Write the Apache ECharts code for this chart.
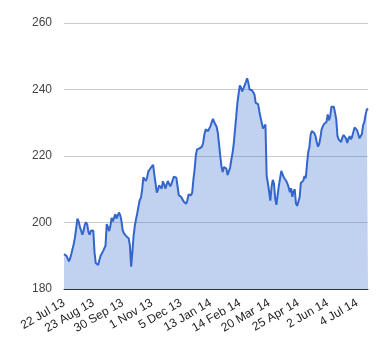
<!DOCTYPE html>
<html>
<head>
<meta charset="utf-8">
<script src="https://cdn.jsdelivr.net/npm/echarts@6/dist/echarts.min.js"></script>
<style>
  html, body { margin: 0; padding: 0; background: #fff; }
  #chart { width: 380px; height: 360px; }
</style>
</head>
<body>
<div id="chart"></div>
<script>
const tickLabels = ['22 Jul 13', '23 Aug 13', '30 Sep 13', '1 Nov 13', '5 Dec 13', '13 Jan 14',
  '14 Feb 14', '20 Mar 14', '25 Apr 14', '2 Jun 14', '4 Jul 14'];
const labelEvery = 24;
const yTicks = [180, 200, 220, 240, 260];
const prices = [
  190.5, 191, 190, 189.2, 188.3, 189.2, 190.5, 192, 193.6, 195.6,
  198.4, 201.2, 200.3, 198.7, 197.6, 196.3, 197.4, 199.3, 200.1, 199.4,
  197.2, 196.3, 197.5, 198, 197.6, 191, 187.8, 187.4, 187.2, 188.7,
  190, 190.7, 191.4, 191.3, 193, 199.5, 198.6, 197.4, 199, 201.4,
  200.3, 200.8, 202.5, 201.2, 201.4, 203, 202.3, 200.6, 197.8, 196.8,
  196.3, 195.9, 195.6, 195.2, 193, 186.7, 191, 196, 199, 201,
  202.8, 204.8, 206.7, 207.4, 209.9, 213.6, 213.4, 212.5, 213.4, 215.3,
  215.8, 216.4, 217, 217.3, 214.4, 211.8, 209, 209.9, 211.2, 210.7,
  210.2, 212.4, 211.5, 210.2, 211.3, 212.5, 211.9, 210.9, 211.6, 212.7,
  213.8, 214, 213.5, 210.9, 208.2, 208, 207.7, 207, 206.3, 205.9,
  205.6, 206.6, 208.4, 208.5, 208.2, 209, 213, 216, 220.3, 222,
  222.5, 222.3, 222.4, 222.8, 224, 226.5, 228, 227.4, 227.5, 227.8,
  229, 230.2, 231.2, 230.2, 229.5, 228.8, 227, 223.6, 220, 216.8,
  215.2, 216.7, 216.4, 216.2, 214.3, 214.8, 216.4, 218.8, 220.8, 223.6,
  227.6, 231.6, 235.8, 238.7, 241.2, 240.5, 239.4, 239.5, 241.3, 242.3,
  243.4, 242, 240, 239.8, 239.8, 239.5, 238.5, 236, 236.5, 235.6,
  233.4, 231.6, 229.9, 228.3, 228.4, 229.5, 214, 211.8, 209.3, 206.6,
  210.7, 212.8, 211.7, 207.1, 205.3, 208.4, 211.1, 211.6, 215.5, 216,
  213.6, 213.1, 212.5, 211.7, 210.6, 209.1, 210.3, 207.7, 209.3, 210,
  205.7, 205, 205.4, 207.6, 211.9, 211.9, 212.6, 214, 213.3, 217.4,
  221.1, 222.6, 226.4, 227.5, 227.1, 226.9, 226, 224.2, 222.8, 223.6,
  225.5, 228, 228.9, 229.6, 230, 230.2, 232.5, 230.7, 231.8, 234.8,
  235.4, 234.8, 233, 231, 226, 225, 224.9, 224.2, 225.6, 226.3,
  226.5, 225.3, 223.9, 225.2, 226, 225, 225.8, 227.2, 228.6, 228.7,
  227.8, 226.6, 225.3, 224.9, 226.6, 229.3, 230.2, 232.4, 233.9, 234.3
];
const categories = prices.map((_, i) => String(i));

const chart = echarts.init(document.getElementById('chart'), null, { renderer: 'canvas' });
chart.setOption({
  animation: false,
  backgroundColor: '#ffffff',
  textStyle: { fontFamily: 'Liberation Sans, Arial, sans-serif' },
  grid: { left: 64, right: 12, top: 23, bottom: 71, containLabel: false },
  xAxis: {
    type: 'category',
    data: categories,
    boundaryGap: false,
    axisLine: { show: true, lineStyle: { color: '#333333', width: 1 } },
    axisTick: { show: false },
    splitLine: { show: false },
    axisLabel: {
      interval: labelEvery - 1,
      rotate: 30,
      margin: 13,
      color: '#222222',
      fontSize: 12,
      fontFamily: 'Liberation Sans, Arial, sans-serif',
      formatter: (v, idx) => tickLabels[Math.round(idx / labelEvery)] || ''
    }
  },
  yAxis: {
    type: 'value',
    min: yTicks[0],
    max: yTicks[yTicks.length - 1],
    interval: 20,
    axisLine: { show: false },
    axisTick: { show: false },
    splitLine: { show: true, lineStyle: { color: '#cccccc', width: 1 } },
    axisLabel: {
      margin: 12,
      color: '#444444',
      fontSize: 12,
      fontFamily: 'Liberation Sans, Arial, sans-serif'
    }
  },
  series: [{
    type: 'line',
    data: prices,
    showSymbol: false,
    symbol: 'none',
    lineStyle: { color: '#3366cc', width: 2 },
    areaStyle: { color: '#3366cc', opacity: 0.3 },
    z: 2
  }]
});
</script>
</body>
</html>
